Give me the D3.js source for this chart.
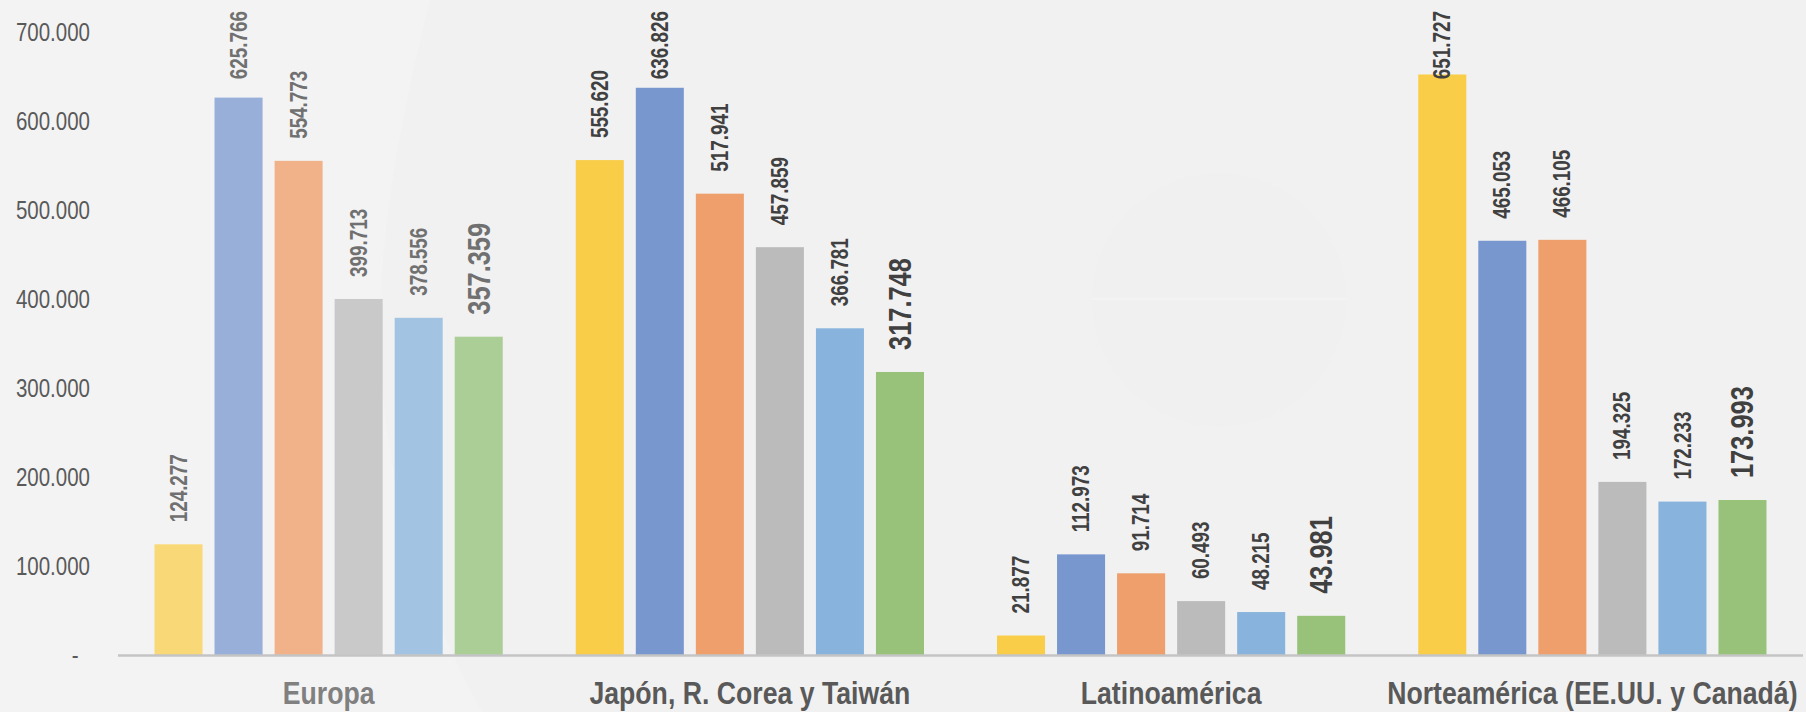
<!DOCTYPE html>
<html>
<head>
<meta charset="utf-8">
<script src="https://cdn.jsdelivr.net/npm/d3@7"></script>
<style>
  html, body { margin: 0; padding: 0; background: #f2f2f2; }
  svg { display: block; }
  text { font-family: "Liberation Sans", Arial, sans-serif; }
</style>
</head>
<body>
<svg id="chart" width="1806" height="712"></svg>
<script>
// ---- Data ----
const categories = ["Europa", "Japón, R. Corea y Taiwán", "Latinoamérica", "Norteamérica (EE.UU. y Canadá)"];
const seriesNames = ["Serie 1", "Serie 2", "Serie 3", "Serie 4", "Serie 5", "Serie 6"];
const serie1 = [124277, 555620, 21877, 651727];
const serie2 = [625766, 636826, 112973, 465053];
const serie3 = [554773, 517941, 91714, 466105];
const serie4 = [399713, 457859, 60493, 194325];
const serie5 = [378556, 366781, 48215, 172233];
const serie6 = [357359, 317748, 43981, 173993];
const seriesValues = [serie1, serie2, serie3, serie4, serie5, serie6];
const yTicks = [0, 100000, 200000, 300000, 400000, 500000, 600000, 700000];

// ---- Styles ----
const colors = ["#F9CD48", "#7897CF", "#EE9F6B", "#BBBBBB", "#87B3DC", "#98C27A"];
const fadedColors = ["#F9D877", "#97AFD9", "#F1B28A", "#C9C9C9", "#A2C4E2", "#ABCD96"];

const W = 1806, H = 712;
const svg = d3.select("#chart");
const locale = d3.formatLocale({ decimal: ",", thousands: ".", grouping: [3], currency: ["", " €"] });
const fmt = locale.format(",d");
const squeeze = 0.82; // narrow (condensed) look

// background
svg.append("rect").attr("width", W).attr("height", H).attr("fill", "#f1f1f1");
svg.append("path").attr("d", "M0,0 L430,0 C400,120 380,230 380,330 C380,470 420,600 482,712 L0,712 Z").attr("fill", "#f3f3f3");
// faint watermark
const wm = svg.append("g");
wm.append("circle").attr("cx", 1219).attr("cy", 300).attr("r", 127).attr("fill", "#f0f0f0");
wm.append("line").attr("x1", 1092).attr("x2", 1346).attr("y1", 299).attr("y2", 299).attr("stroke", "#f3f3f3").attr("stroke-width", 2);

// ---- Scales ----
const plotLeft = 118, plotRight = 1803;
const x0 = d3.scaleBand().domain(categories).range([plotLeft, plotRight]).paddingInner(0).paddingOuter(0);
const x1 = d3.scaleBand().domain(d3.range(seriesValues.length)).range([0, x0.bandwidth()]).paddingInner(0.2).paddingOuter(0.608);
const y = d3.scaleLinear().domain([0, 700000]).range([655, 31.5]);

// ---- Y axis ----
const yAxis = d3.axisLeft(y).tickValues(yTicks).tickSize(0).tickPadding(0)
  .tickFormat(d => d === 0 ? "-" : fmt(d));
const gy = svg.append("g").attr("transform", "translate(90,0)").call(yAxis);
gy.select(".domain").remove();
gy.selectAll(".tick text")
  .attr("fill", "#595959")
  .attr("font-size", 25)
  .attr("dy", "0.35em")
  .attr("x", d => d === 0 ? -14 : 0)
  .attr("transform", `scale(${squeeze},1)`)
  .style("font-family", null);

// ---- Bars ----
const groups = svg.append("g").selectAll("g.cat")
  .data(categories).join("g").attr("class", "cat")
  .attr("transform", d => `translate(${x0(d)},0)`);

groups.each(function(cat, ci) {
  const g = d3.select(this);
  const faded = ci === 0;
  seriesValues.forEach((vals, si) => {
    const v = vals[ci];
    g.append("rect")
      .attr("x", x1(si))
      .attr("width", x1.bandwidth())
      .attr("y", y(v))
      .attr("height", y(0) - y(v))
      .attr("fill", faded ? fadedColors[si] : colors[si]);
  });
  // labels
  seriesValues.forEach((vals, si) => {
    const v = vals[ci];
    const big = si === seriesValues.length - 1;
    const fs = big ? 31 : 23;
    const label = fmt(v);
    const cx = x1(si) + x1.bandwidth() / 2;
    let bottom = y(v) - 22;
    const t = g.append("text")
      .attr("font-size", fs)
      .attr("font-weight", "bold")
      .attr("fill", faded ? "#707070" : "#404040")
      .attr("text-anchor", "start")
      .attr("dy", "0.35em")
      .text(label);
    const len = t.node().getComputedTextLength() * squeeze;
    if (bottom - len < 11) bottom = 11 + len;
    t.attr("transform", `translate(${cx},${bottom}) rotate(-90) scale(${squeeze},1)`);
  });
});

// ---- Baseline ----
svg.append("line")
  .attr("x1", plotLeft).attr("x2", plotRight)
  .attr("y1", y(0) + 0.5).attr("y2", y(0) + 0.5)
  .attr("stroke", "#c4c4c4").attr("stroke-width", 2.5);

// ---- Category labels ----
const xAxis = d3.axisBottom(x0).tickSize(0).tickPadding(0);
const gx = svg.append("g").attr("transform", "translate(0,704)").call(xAxis);
gx.select(".domain").remove();
gx.selectAll(".tick text")
  .attr("y", 0).attr("dy", 0)
  .attr("font-size", 31)
  .attr("font-weight", "bold")
  .attr("fill", (d, i) => i === 0 ? "#808080" : "#595959")
  .attr("transform", `scale(0.86,1)`)
  .style("font-family", null);
</script>
</body>
</html>
